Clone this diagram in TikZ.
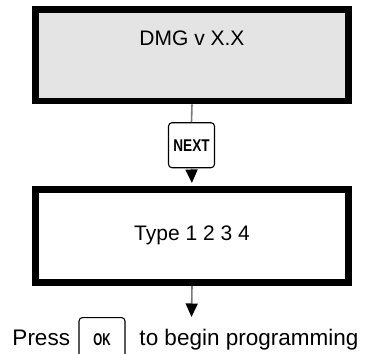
\documentclass[tikz,border=0pt]{standalone}
\usepackage{fontspec}
\usepackage{graphicx}
\setmainfont{Liberation Sans}
\usetikzlibrary{arrows.meta}
\definecolor{panelgray}{HTML}{E4E4E4}
\definecolor{linkgray}{HTML}{7A7A7A}
\tikzset{
  screen/.style={draw=black, line width=6.6bp, minimum width=312.8bp},
  keycap/.style={draw=black, line width=1.1bp, rounded corners=3.5bp, fill=white, inner sep=0pt},
  link/.style={draw=linkgray, line width=1.6bp},
  flow/.style={link, -{Triangle[width=12bp,length=13.5bp,color=black]}},
  big/.style={font=\fontsize{21bp}{25bp}\selectfont},
  keyfont/.style={font=\fontsize{17bp}{20bp}\selectfont\bfseries}
}
\begin{document}
\begin{tikzpicture}[x=1bp, y=-1bp]
  \useasboundingbox (0,0) rectangle (374,354);
  % display screens
  \node[screen, fill=panelgray, minimum height=91.8bp] (top) at (192,55.1) {};
  \node[big] (toptext) at (192,38.5) {DMG v X.X};
  \node[screen, fill=white, minimum height=93.4bp] (type) at (192,236) {};
  \node[big] (typetext) at (192,235) {Type 1 2 3 4};
  % NEXT key between the screens
  \node[keycap, minimum width=46bp, minimum height=45bp, keyfont] (next) at (191.5,145.2) {\scalebox{0.8}[1]{NEXT}};
  \draw[link] (top.south) -- (next.north);
  \draw[flow, shorten >=3bp] (next.south) -- (type.north);
  % final instruction
  \coordinate (tip) at (191.5,317);
  \draw[flow] (type.south) -- (tip);
  \node[keycap, minimum width=46bp, minimum height=50bp, keyfont, anchor=north] (ok) at (102,317) {};
  \node[keyfont, anchor=base] (oktext) at (102,345.3) {\scalebox{0.68}[1]{OK}};
  \node[font=\fontsize{22.5bp}{26bp}\selectfont, anchor=base west, inner sep=0pt] (press) at (12.3,345.7) {Press};
  \node[font=\fontsize{22.5bp}{26bp}\selectfont, anchor=base west, inner sep=0pt] (rest) at (139.3,345.7) {to begin programming};
\end{tikzpicture}
\end{document}
